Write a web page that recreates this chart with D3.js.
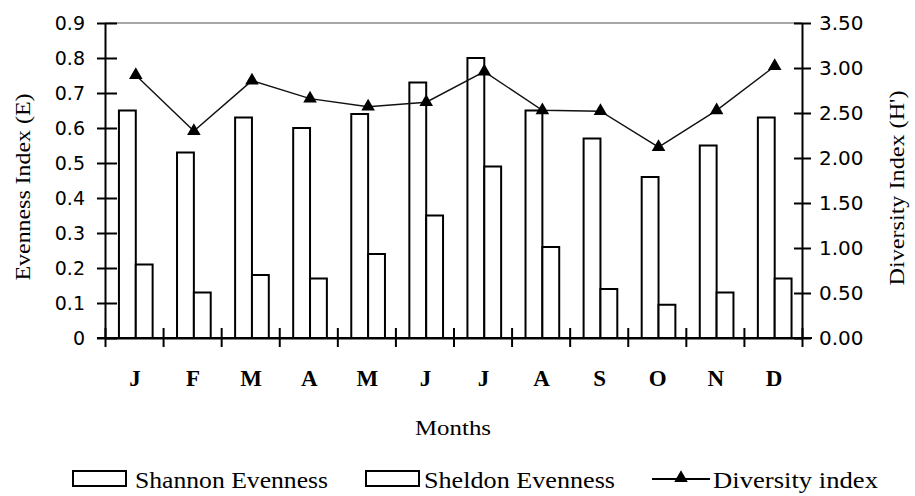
<!DOCTYPE html>
<html>
<head>
<meta charset="utf-8">
<script src="https://cdn.jsdelivr.net/npm/d3@7"></script>
<style>
  html, body { margin: 0; padding: 0; background: #fff; }
  svg { display: block; }
</style>
</head>
<body>
<svg id="chart" width="915" height="496"></svg>
<script>
const months = ["J","F","M","A","M","J","J","A","S","O","N","D"];
const shannon = [0.65,0.53,0.63,0.60,0.64,0.73,0.80,0.65,0.57,0.46,0.55,0.63];
const sheldon = [0.21,0.13,0.18,0.17,0.24,0.35,0.49,0.26,0.14,0.095,0.13,0.17];
const diversity = [2.92,2.30,2.86,2.66,2.57,2.62,2.96,2.53,2.52,2.12,2.53,3.02];
const leftTicks = [0,0.1,0.2,0.3,0.4,0.5,0.6,0.7,0.8,0.9];
const leftTickLabels = ["0","0.1","0.2","0.3","0.4","0.5","0.6","0.7","0.8","0.9"];
const rightTicks = [0,0.5,1,1.5,2,2.5,3,3.5];
const rightTickLabels = ["0.00","0.50","1.00","1.50","2.00","2.50","3.00","3.50"];
const seriesNames = ["Shannon Evenness","Sheldon Evenness","Diversity index"];

const svg = d3.select("#chart");
const L = 105, R = 802, T = 23, B = 338;
const serif = "'Liberation Serif', 'Times New Roman', serif";
const sans = "'DejaVu Sans', sans-serif";

const x = d3.scaleBand().domain(d3.range(months.length)).range([L, R]).padding(0);
const bw = x.bandwidth();
const sub = d3.scaleBand().domain(["sh","sd"]).range([0.24 * bw, 0.24 * bw + 0.58 * bw]).padding(0);
const yL = d3.scaleLinear().domain([0, 0.9]).range([B, T]);
const yR = d3.scaleLinear().domain([0, 3.5]).range([B, T]);

// top border
svg.append("line").attr("x1", L).attr("x2", R).attr("y1", T).attr("y2", T)
  .attr("stroke", "#8a8a8a").attr("stroke-width", 1.5);

// bars
const bars = svg.append("g");
months.forEach((m, i) => {
  bars.append("rect")
    .attr("x", x(i) + sub("sh")).attr("width", sub.bandwidth())
    .attr("y", yL(shannon[i])).attr("height", B - yL(shannon[i]))
    .attr("fill", "#fff").attr("stroke", "#000").attr("stroke-width", 2);
  bars.append("rect")
    .attr("x", x(i) + sub("sd")).attr("width", sub.bandwidth())
    .attr("y", yL(sheldon[i])).attr("height", B - yL(sheldon[i]))
    .attr("fill", "#fff").attr("stroke", "#000").attr("stroke-width", 2);
});

// left axis
const gl = svg.append("g").attr("transform", `translate(${L},0)`)
  .call(d3.axisLeft(yL).tickValues(leftTicks).tickFormat((d, i) => leftTickLabels[i]).tickSizeOuter(0).tickPadding(14));
gl.select(".domain").attr("stroke", "#000").attr("stroke-width", 2);
gl.selectAll(".tick line").attr("x1", -8).attr("x2", 12).attr("stroke", "#000").attr("stroke-width", 2);
gl.selectAll(".tick text").attr("font-family", sans).attr("font-size", 19).attr("fill", "#000");

// right axis
const gr = svg.append("g").attr("transform", `translate(${R},0)`)
  .call(d3.axisRight(yR).tickValues(rightTicks).tickFormat((d, i) => rightTickLabels[i]).tickSizeOuter(0).tickPadding(11));
gr.select(".domain").attr("stroke", "#000").attr("stroke-width", 2);
gr.selectAll(".tick line").attr("x1", -8).attr("x2", 9).attr("stroke", "#000").attr("stroke-width", 2);
gr.selectAll(".tick text").attr("font-family", sans).attr("font-size", 20).attr("fill", "#000");

// bottom axis
const xb = d3.scaleLinear().domain([0, months.length]).range([L, R]);
const gb = svg.append("g").attr("transform", `translate(0,${B})`)
  .call(d3.axisBottom(xb).tickValues(d3.range(months.length + 1)).tickFormat("").tickSizeOuter(0));
gb.select(".domain").attr("stroke", "#000").attr("stroke-width", 2);
gb.selectAll(".tick line").attr("y1", -10).attr("y2", 9).attr("stroke", "#000").attr("stroke-width", 2);
svg.append("line").attr("x1", L - 8).attr("x2", R + 10).attr("y1", B).attr("y2", B)
  .attr("stroke", "#000").attr("stroke-width", 2);

// month labels
svg.append("g").selectAll("text").data(months).join("text")
  .attr("x", (d, i) => x(i) + bw / 2 + 1).attr("y", 386)
  .attr("text-anchor", "middle").attr("font-family", serif).attr("font-size", 23)
  .attr("font-weight", "bold").text(d => d);

// diversity line
const mx = i => x(i) + sub("sd");
svg.append("path").datum(diversity)
  .attr("d", d3.line().x((d, i) => mx(i)).y(d => yR(d)))
  .attr("fill", "none").attr("stroke", "#111").attr("stroke-width", 1.4);
const tri = d3.symbol().type(d3.symbolTriangle).size(80);
svg.append("g").selectAll("path").data(diversity).join("path")
  .attr("d", tri).attr("transform", (d, i) => `translate(${mx(i)},${yR(d)})`)
  .attr("fill", "#000");

// axis titles
svg.append("text").attr("transform", "translate(30,187) rotate(-90)")
  .attr("text-anchor", "middle").attr("font-family", serif).attr("font-size", 22)
  .attr("textLength", 187).attr("lengthAdjust", "spacingAndGlyphs")
  .text("Evenness Index (E)");
svg.append("text").attr("transform", "translate(904,188) rotate(-90)")
  .attr("text-anchor", "middle").attr("font-family", serif).attr("font-size", 22)
  .attr("textLength", 195).attr("lengthAdjust", "spacingAndGlyphs")
  .text("Diversity Index (H')");
svg.append("text").attr("x", 453).attr("y", 435)
  .attr("text-anchor", "middle").attr("font-family", serif).attr("font-size", 22)
  .attr("textLength", 76).attr("lengthAdjust", "spacingAndGlyphs")
  .text("Months");

// legend
const lg = svg.append("g");
const ly = 479;
lg.append("rect").attr("x", 73).attr("y", ly - 8).attr("width", 53).attr("height", 15)
  .attr("fill", "#fff").attr("stroke", "#000").attr("stroke-width", 2);
lg.append("text").attr("x", 135).attr("y", ly + 9).attr("font-family", serif).attr("font-size", 23)
  .attr("textLength", 193).attr("lengthAdjust", "spacingAndGlyphs").text(seriesNames[0]);
lg.append("rect").attr("x", 366).attr("y", ly - 8).attr("width", 53).attr("height", 15)
  .attr("fill", "#fff").attr("stroke", "#000").attr("stroke-width", 2);
lg.append("text").attr("x", 424).attr("y", ly + 9).attr("font-family", serif).attr("font-size", 23)
  .attr("textLength", 191).attr("lengthAdjust", "spacingAndGlyphs").text(seriesNames[1]);
lg.append("line").attr("x1", 652).attr("x2", 710).attr("y1", ly).attr("y2", ly)
  .attr("stroke", "#000").attr("stroke-width", 2);
lg.append("path").attr("d", tri).attr("transform", `translate(681,${ly - 1})`).attr("fill", "#000");
lg.append("text").attr("x", 713).attr("y", ly + 9).attr("font-family", serif).attr("font-size", 23)
  .attr("textLength", 165).attr("lengthAdjust", "spacingAndGlyphs").text(seriesNames[2]);
</script>
</body>
</html>
